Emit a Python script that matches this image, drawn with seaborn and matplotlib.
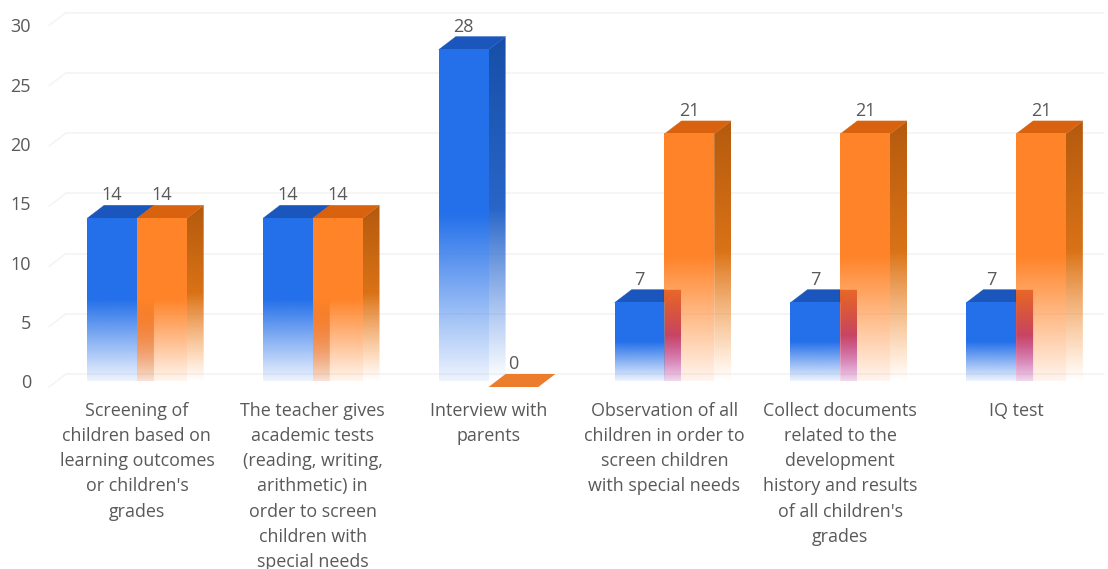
import numpy as np
import pandas as pd
import matplotlib
matplotlib.use("Agg")
import matplotlib.pyplot as plt
from matplotlib.colors import to_rgb
from matplotlib.patches import Polygon
from matplotlib.transforms import Affine2D
import seaborn as sns

categories = [
    "Screening of\nchildren based on\nlearning outcomes\nor children's\ngrades",
    "The teacher gives\nacademic tests\n(reading, writing,\narithmetic) in\norder to screen\nchildren with\nspecial needs",
    "Interview with\nparents",
    "Observation of all\nchildren in order to\nscreen children\nwith special needs",
    "Collect documents\nrelated to the\ndevelopment\nhistory and results\nof all children's\ngrades",
    "IQ test",
]
series_a = [14, 14, 28, 7, 7, 7]
series_b = [14, 14, 0, 21, 21, 21]
y_ticks = [0, 5, 10, 15, 20, 25, 30]

front_colors = ["#2470EA", "#FF8429"]
side_colors = ["#174FA8", "#B45A0E"]
side_low_colors = ["#3A7CE8", "#FF8A20"]
top_colors = ["#1B56BC", "#D9620F"]
zero_top = "#EC7D2C"
mix_equal = "#C8460F"          # blue side seen through an equally tall orange bar
mix_top, mix_bottom = "#A01030", "#A020F0"   # ... through a taller orange bar
text_color = "#595959"
grid_color = "#F4F4F4"

W, H = 1108, 569
sns.set_style("white")
plt.rcParams["font.family"] = ["Open Sans", "DejaVu Sans"]

df = pd.DataFrame({
    "category": categories * 2,
    "series": ["A"] * 6 + ["B"] * 6,
    "value": series_a + series_b,
})

fig = plt.figure(figsize=(W / 100, H / 100), dpi=100)
ax = fig.add_axes([49 / W, (H - 387) / H, (1104 - 49) / W, 361.5 / H])
sns.barplot(data=df, x="category", y="value", hue="series", hue_order=["A", "B"],
            width=0.566, gap=0, legend=False, ax=ax, palette=front_colors)

ax.set_xlim(-0.5, 5.5)
ax.set_ylim(0, 30)
ax.set_xlabel("")
ax.set_ylabel("")
sns.despine(ax=ax, left=True, bottom=True, top=True, right=True)

# depth of the pseudo-3D extrusion, in pixels and in data units
px_dx, px_dy = 17, 13
bb = ax.get_position()
dx = px_dx * 6 / (bb.width * W)
dy = px_dy * 30 / (bb.height * H)
floor = 0.5   # faces fade out slightly above the baseline

for v in y_ticks:
    ax.plot([-0.5 + dx, 5.5], [v + dy, v + dy], color=grid_color, lw=1.2, zorder=0, clip_on=False)
    ax.plot([-0.5, -0.5 + dx], [v, v + dy], color=grid_color, lw=1.2, zorder=0, clip_on=False)


def gradient(color_top, color_bottom=None, min_alpha=0.08):
    """RGBA column: solid in the upper half, fading out in the lower half."""
    n = 200
    t = np.linspace(1, 0, n)  # 1 at top row, 0 at bottom row
    c0 = np.array(to_rgb(color_top))
    c1 = np.array(to_rgb(color_bottom or color_top))
    rgba = np.ones((n, 1, 4))
    rgba[:, 0, :3] = t[:, None] * c0 + (1 - t[:, None]) * c1
    rgba[:, 0, 3] = np.clip(min_alpha + t * 2 * (1 - min_alpha), 0, 1)
    return rgba


z = 2.0
for s, container in enumerate(ax.containers):
    for i, bar in enumerate(container):
        x0, w, h = bar.get_x(), bar.get_width(), bar.get_height()
        x1 = x0 + w
        bar.set_visible(False)
        other = series_b[i] if s == 0 else 0
        if other > h:
            side_grad = gradient(mix_top, mix_bottom, 0.15)
        elif other > 0:
            side_grad = gradient(mix_equal, None, 0.12)
        else:
            side_grad = gradient(side_colors[s], side_low_colors[s], 0.0)
        if h > 0:
            side = Polygon([(x1, floor), (x1 + dx, floor), (x1 + dx, h + dy), (x1, h)],
                           transform=ax.transData, fc="none", ec="none")
            ax.add_patch(side)
            im = ax.imshow(side_grad, extent=(x1, x1 + dx, floor, h + dy),
                           aspect="auto", zorder=z, interpolation="bilinear")
            im.set_clip_path(side)
            ax.imshow(gradient(front_colors[s]), extent=(x0, x1, floor, h),
                      aspect="auto", zorder=z + 0.2, interpolation="bilinear", clip_on=False)
            if other > h:
                # the part of the top face that lies over the taller neighbour
                ax.add_patch(Polygon([(x0, h), (x0 + dx, h + dy), (x1, h + dy), (x1, h)],
                                     fc=top_colors[s], ec=top_colors[s], lw=0.3,
                                     zorder=z + 0.1, clip_on=False))
                ax.add_patch(Polygon([(x1, h), (x1, h + dy), (x1 + dx, h + dy)],
                                     fc=mix_top, ec=mix_top, lw=0.3,
                                     zorder=z + 0.1, clip_on=False))
            else:
                ax.add_patch(Polygon([(x0, h), (x0 + dx, h + dy), (x1 + dx, h + dy), (x1, h)],
                                     fc=top_colors[s], ec=top_colors[s], lw=0.3,
                                     zorder=z + 0.1, clip_on=False))
        else:
            ax.add_patch(Polygon([(x0, h), (x0 + dx, h + dy), (x1 + dx, h + dy), (x1, h)],
                                 fc=zero_top, ec="none", zorder=z + 0.1, clip_on=False))
        ax.annotate(f"{int(h)}", (x0 + w / 2, h), xytext=(0, 23 * 0.72),
                    textcoords="offset points", ha="center", va="center",
                    color=text_color, fontsize=13, zorder=100)
        z += 1

ax.set_xlim(-0.5, 5.5)
ax.set_ylim(0, 30)
ax.set_yticks(y_ticks)
ax.set_xticks(range(6))
ax.set_xticklabels(categories, fontsize=12.9, color=text_color, linespacing=1.505)
ax.tick_params(axis="x", length=0, pad=11)
ax.tick_params(axis="y", length=0, pad=13, labelsize=13, labelcolor=text_color)
ax.grid(False)
ax.set_facecolor("none")

fig.canvas.draw()
# the value-axis labels sit on a slightly tighter spacing than the faces
for v, lab in zip(y_ticks, ax.get_yticklabels()):
    lab.set_transform(lab.get_transform() + Affine2D().translate(0, 6 * (1 - v / 30)))

fig.savefig("out.png", dpi=100)
